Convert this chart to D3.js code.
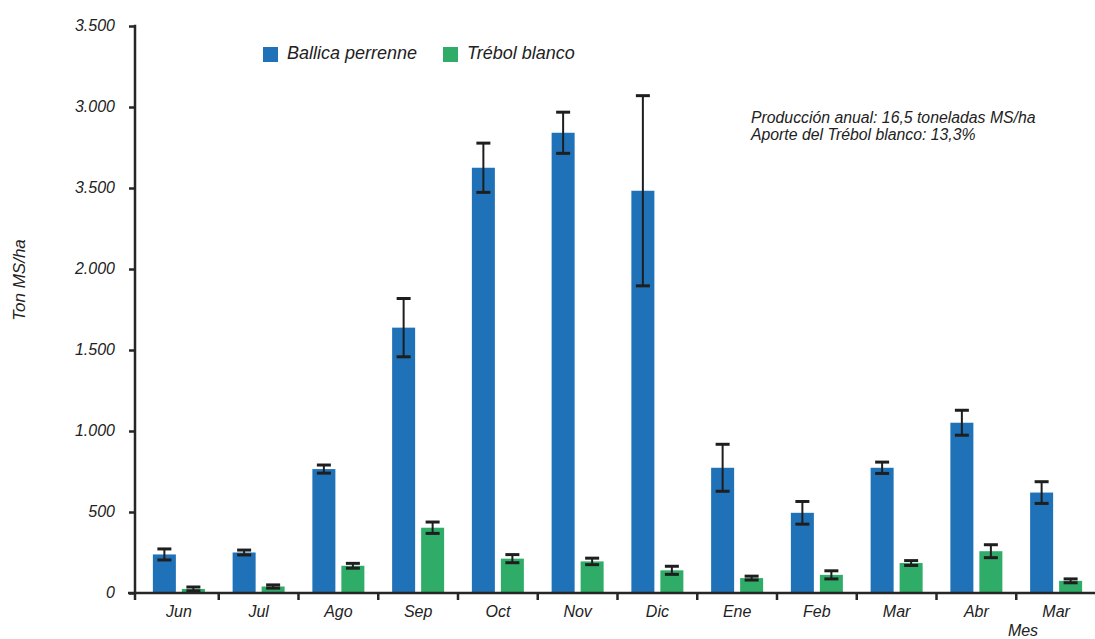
<!DOCTYPE html>
<html>
<head>
<meta charset="utf-8">
<script src="https://cdn.jsdelivr.net/npm/d3@7"></script>
<style>
  body { margin: 0; background: #fff; }
  svg { display: block; }
  text { font-family: "Liberation Sans", Arial, Helvetica, sans-serif; font-style: italic; fill: #222; }
</style>
</head>
<body>
<svg id="chart" width="1095" height="639"></svg>
<script>
// Monthly dry-matter production (kg MS/ha) with error bars
const months = ["Jun", "Jul", "Ago", "Sep", "Oct", "Nov", "Dic", "Ene", "Feb", "Mar", "Abr", "Mar"];
const ballica = [238, 250, 765, 1638, 2625, 2841, 2483, 773, 495, 773, 1051, 620];
const ballicaErr = [34, 15, 25, 180, 152, 127, 587, 145, 70, 35, 77, 67];
const trebol = [25, 40, 168, 403, 212, 195, 140, 92, 112, 185, 258, 75];
const trebolErr = [12, 10, 15, 35, 25, 20, 25, 12, 25, 15, 40, 12];
const seriesNames = ["Ballica perrenne", "Trébol blanco"];
const seriesColors = ["#1f71b8", "#2fad68"];
const yTicks = [0, 500, 1000, 1500, 2000, 2500, 3000, 3500];
const yTickLabels = ["0", "500", "1.000", "1.500", "2.000", "3.500", "3.000", "3.500"];
const notes = ["Producción anual: 16,5 toneladas MS/ha", "Aporte del Trébol blanco: 13,3%"];
const yTitle = "Ton MS/ha";
const xTitle = "Mes";

const svg = d3.select("#chart");
const axisColor = "#262626";

const y = d3.scaleLinear().domain([0, 3500]).range([593, 26]);
const x = d3.scaleBand().domain(d3.range(months.length)).range([139, 1096]);
const pairWidth = 52;
const xs = d3.scaleBand().domain([0, 1])
  .range([(x.bandwidth() - pairWidth) / 2, (x.bandwidth() + pairWidth) / 2])
  .paddingInner(0.207);

const series = [
  { values: ballica, errs: ballicaErr },
  { values: trebol, errs: trebolErr }
];

// bars
series.forEach((s, si) => {
  svg.append("g").selectAll("rect")
    .data(s.values)
    .join("rect")
    .attr("x", (d, i) => x(i) + xs(si))
    .attr("width", xs.bandwidth())
    .attr("y", d => y(d))
    .attr("height", d => y(0) - y(d))
    .attr("fill", seriesColors[si]);
});

// error bars
const capW = 14;
series.forEach((s, si) => {
  const g = svg.append("g").attr("stroke", "#1e1e1e");
  s.values.forEach((v, i) => {
    const cx = x(i) + xs(si) + xs.bandwidth() / 2;
    const hi = y(v + s.errs[i]);
    const lo = y(Math.max(0, v - s.errs[i]));
    g.append("line").attr("x1", cx).attr("x2", cx).attr("y1", hi).attr("y2", lo).attr("stroke-width", 2);
    [hi, lo].forEach(yy => {
      g.append("line").attr("x1", cx - capW / 2).attr("x2", cx + capW / 2)
        .attr("y1", yy).attr("y2", yy).attr("stroke-width", 3);
    });
  });
});

// y axis
const yAxis = svg.append("g").attr("transform", "translate(135,0)")
  .call(d3.axisLeft(y).tickValues(yTicks).tickFormat((d, i) => yTickLabels[i])
    .tickSize(6).tickSizeOuter(0).tickPadding(14));
yAxis.select(".domain").remove();
yAxis.attr("font-family", null);
yAxis.selectAll(".tick line").attr("stroke", axisColor).attr("stroke-width", 2.5);
yAxis.selectAll("text").attr("font-size", 16).attr("dy", "0.25em");
svg.append("line").attr("x1", 135).attr("x2", 135).attr("y1", y(3500) - 1.2).attr("y2", 600)
  .attr("stroke", axisColor).attr("stroke-width", 2.5);

// x axis
const xAxis = svg.append("g").attr("transform", `translate(0,${y(0)})`)
  .call(d3.axisBottom(x).tickFormat(i => months[i]).tickSize(0));
xAxis.select(".domain").remove();
xAxis.attr("font-family", null);
xAxis.selectAll("text").attr("font-size", 16).attr("y", 24).attr("dy", 0);
svg.append("line").attr("x1", 128).attr("x2", 1095).attr("y1", y(0)).attr("y2", y(0))
  .attr("stroke", axisColor).attr("stroke-width", 2.5);
svg.append("g").selectAll("line")
  .data(d3.range(1, months.length))
  .join("line")
  .attr("x1", i => x(i)).attr("x2", i => x(i))
  .attr("y1", y(0)).attr("y2", y(0) + 7)
  .attr("stroke", axisColor).attr("stroke-width", 2.5);

// axis titles
svg.append("text").attr("transform", "translate(25,280) rotate(-90)")
  .attr("text-anchor", "middle").attr("font-size", 17).text(yTitle);
svg.append("text").attr("x", 1023).attr("y", 636).attr("text-anchor", "middle")
  .attr("font-size", 16).text(xTitle);

// legend
const legendX = [263, 443];
seriesNames.forEach((name, i) => {
  svg.append("rect").attr("x", legendX[i]).attr("y", 47).attr("width", 15).attr("height", 15)
    .attr("fill", seriesColors[i]);
  svg.append("text").attr("x", legendX[i] + 24).attr("y", 59).attr("font-size", 18).text(name);
});

// notes
svg.append("g").selectAll("text")
  .data(notes)
  .join("text")
  .attr("x", 751)
  .attr("y", (d, i) => 123 + i * 17)
  .attr("font-size", 15.8)
  .text(d => d);
</script>
</body>
</html>
